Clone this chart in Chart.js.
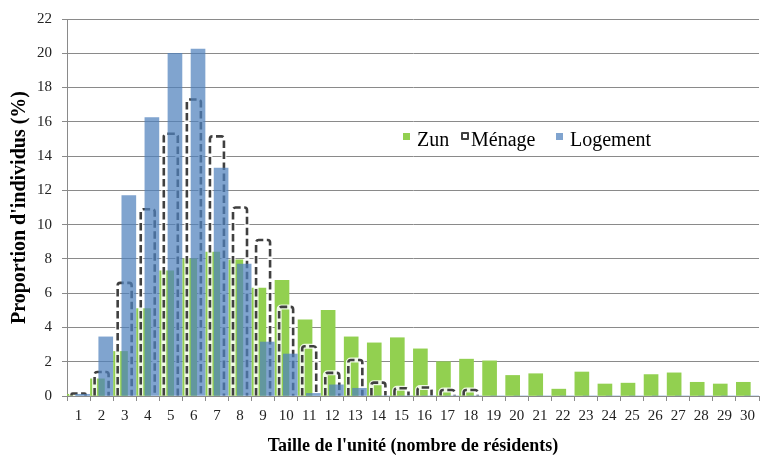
<!DOCTYPE html>
<html lang="fr">
<head>
<meta charset="utf-8">
<title>Taille de l'unité</title>
<script src="https://cdn.jsdelivr.net/npm/chart.js@4.4.1/dist/chart.umd.min.js"></script>
<style>
  html, body { margin: 0; padding: 0; background: #ffffff; }
  #wrap { position: relative; width: 761px; height: 455px; }
  #legend { position: absolute; left: 0; top: 0; font-family: "Liberation Serif", serif; font-size: 20px; color: #000; }
  .item { position: absolute; top: 127px; display: flex; align-items: center; white-space: nowrap; line-height: 24px; }
  .swatch { position: relative; top: -3px; width: 7px; height: 7px; margin-right: 7px; }
  .swatch.outline { width: 4px; height: 4px; border: 2px solid #404040; border-radius: 1px; margin-right: 2px; background: #fff; }
</style>
</head>
<body>
<div id="wrap">
  <canvas id="sizeChart" width="761" height="455"></canvas>
  <div id="legend"></div>
</div>
<script>
// Chart data
const categories = ["1", "2", "3", "4", "5", "6", "7", "8", "9", "10",
  "11", "12", "13", "14", "15", "16", "17", "18", "19", "20",
  "21", "22", "23", "24", "25", "26", "27", "28", "29", "30"];
const zunValues = [0.1, 1.0, 2.6, 5.1, 7.3, 8.0, 8.4, 7.95, 6.3, 6.75,
  4.45, 5.0, 3.45, 3.1, 3.4, 2.75, 2.0, 2.15, 2.05, 1.2,
  1.3, 0.4, 1.4, 0.7, 0.75, 1.25, 1.35, 0.8, 0.7, 0.8];
const menageValues = [0.15, 1.4, 6.6, 10.9, 15.3, 17.3, 15.15, 11.0, 9.1, 5.2,
  2.9, 1.35, 2.1, 0.78, 0.45, 0.5, 0.35, 0.35, 0, 0,
  0, 0, 0, 0, 0, 0, 0, 0, 0, 0];
const logementValues = [0.1, 3.45, 11.7, 16.25, 20.0, 20.25, 13.3, 7.7, 3.15, 2.45,
  0.15, 0.65, 0.45, 0, 0, 0, 0, 0, 0, 0,
  0, 0, 0, 0, 0, 0, 0, 0, 0, 0];
const yTickValues = [0, 2, 4, 6, 8, 10, 12, 14, 16, 18, 20, 22];

const seriesLabels = ["Zun", "Ménage", "Logement"];
const zunColor = "#92D050";
const logementColor = "rgba(79, 129, 189, 0.72)";
const outlineColor = "#404040";
const gridColor = "#8a8a8a";
const serif = "'Liberation Serif', 'Times New Roman', serif";

// Bars of one category overlap, each series slightly shifted
const slotShift = 0.18;

function toPoints(values) {
  return values.map((v, i) => ({ x: Number(categories[i]), y: v }));
}

function shiftedAxis(shift) {
  return {
    type: "linear",
    display: false,
    offset: false,
    min: 0.5 + shift,
    max: categories.length + 0.5 + shift,
    grid: { offset: false },
  };
}

// Dashed outline for the "Ménage" series (bar elements have no dash option)
const menageOutline = {
  id: "menageOutline",
  afterDatasetDraw(chart, args) {
    if (args.meta.label !== "Ménage") return;
    const ctx = chart.ctx;
    const area = chart.chartArea;
    ctx.save();
    ctx.beginPath();
    ctx.rect(area.left, area.top - 4, area.right - area.left, area.bottom - area.top + 4);
    ctx.clip();
    args.meta.data.forEach((bar) => {
      const p = bar.getProps(["x", "y", "base", "width"], true);
      if (p.base - p.y < 0.5) return;
      const left = p.x - p.width / 2;
      const right = p.x + p.width / 2;
      const r = Math.min(2.5, (p.base - p.y) / 2);
      const path = new Path2D();
      path.moveTo(left, p.base);
      path.lineTo(left, p.y + r);
      path.arcTo(left, p.y, left + r, p.y, r);
      path.lineTo(right - r, p.y);
      path.arcTo(right, p.y, right, p.y + r, r);
      path.lineTo(right, p.base);
      ctx.lineJoin = "round";
      ctx.setLineDash([]);
      ctx.strokeStyle = "rgba(255, 255, 255, 0.85)";
      ctx.lineWidth = 5;
      ctx.stroke(path);
      ctx.setLineDash([7.5, 3.5]);
      ctx.strokeStyle = outlineColor;
      ctx.lineWidth = 2.6;
      ctx.stroke(path);
    });
    ctx.restore();
  },
};

const chart = new Chart(document.getElementById("sizeChart"), {
  type: "bar",
  data: {
    labels: categories,
    datasets: [
      {
        label: seriesLabels[0],
        data: toPoints(zunValues),
        xAxisID: "xZun",
        backgroundColor: zunColor,
        borderWidth: 0,
        barThickness: 14,
        grouped: false,
        order: 2,
      },
      {
        label: seriesLabels[1],
        data: toPoints(menageValues),
        xAxisID: "xMenage",
        backgroundColor: "rgba(0, 0, 0, 0)",
        borderWidth: 0,
        barThickness: 14,
        grouped: false,
        order: 1,
      },
      {
        label: seriesLabels[2],
        data: toPoints(logementValues),
        xAxisID: "xLogement",
        backgroundColor: logementColor,
        borderWidth: 0,
        barThickness: 14,
        grouped: false,
        order: 0,
      },
    ],
  },
  options: {
    responsive: false,
    animation: false,
    devicePixelRatio: 1,
    layout: { padding: { top: 18, right: 1, bottom: 0, left: 0 } },
    plugins: {
      legend: { display: false },
      tooltip: { enabled: false },
    },
    scales: {
      x: {
        type: "category",
        position: "bottom",
        offset: true,
        afterFit: (scale) => { scale.height = 59; },
        grid: {
          offset: true,
          drawOnChartArea: false,
          color: gridColor,
          tickLength: 5,
        },
        border: { color: gridColor, width: 1 },
        ticks: {
          autoSkip: false,
          maxRotation: 0,
          padding: 6,
          color: "#222",
          font: { family: serif, size: 15 },
        },
        title: {
          display: true,
          text: "Taille de l'unité (nombre de résidents)",
          color: "#000",
          font: { family: serif, size: 18, weight: "bold", lineHeight: 1 },
          padding: { top: 0, bottom: 0 },
        },
      },
      xZun: shiftedAxis(slotShift),
      xMenage: shiftedAxis(0),
      xLogement: shiftedAxis(-slotShift),
      y: {
        min: 0,
        max: 22,
        afterFit: (scale) => { scale.width = 67; },
        afterBuildTicks: (scale) => {
          scale.ticks = yTickValues.map((v) => ({ value: v }));
        },
        grid: { color: gridColor, tickLength: 5 },
        border: { color: gridColor, width: 1 },
        ticks: {
          padding: 10,
          color: "#222",
          font: { family: serif, size: 15 },
        },
        title: {
          display: true,
          text: "Proportion d'individus (%)",
          color: "#000",
          font: { family: serif, size: 20, weight: "bold", lineHeight: 1.2 },
          padding: { top: 8, bottom: 0 },
        },
      },
    },
  },
  plugins: [menageOutline],
});

// HTML legend placed inside the plot
function buildLegend() {
  const legendEl = document.getElementById("legend");
  const lefts = [403, 461, 556];
  const swatchClass = ["swatch", "swatch outline", "swatch"];
  const swatchColor = [zunColor, "#fff", logementColor];
  seriesLabels.forEach((label, i) => {
    const item = document.createElement("div");
    item.className = "item";
    item.style.left = lefts[i] + "px";
    const sw = document.createElement("span");
    sw.className = swatchClass[i];
    sw.style.backgroundColor = swatchColor[i];
    const text = document.createElement("span");
    text.textContent = label;
    item.appendChild(sw);
    item.appendChild(text);
    legendEl.appendChild(item);
  });
}

buildLegend();
</script>
</body>
</html>
